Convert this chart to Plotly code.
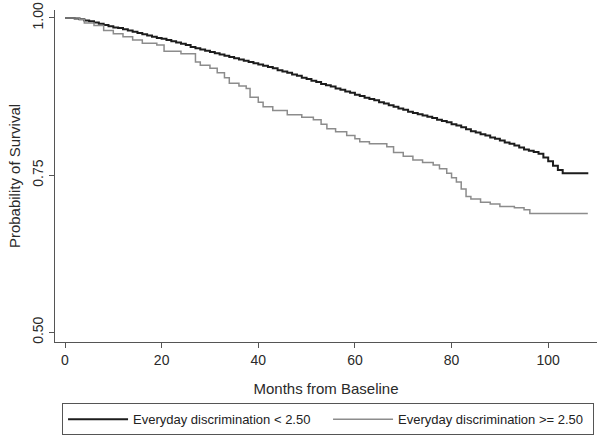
import plotly.graph_objects as go

# Kaplan-Meier style survival readings (months, probability)
low_months = list(range(0, 104)) + [108.3]
low_surv = [1.000, 1.000, 0.999, 0.998, 0.996, 0.995, 0.993, 0.991, 0.989, 0.987,
            0.985, 0.984, 0.982, 0.980, 0.978, 0.976, 0.974, 0.972, 0.970, 0.968,
            0.967, 0.965, 0.963, 0.961, 0.959, 0.957, 0.954, 0.952, 0.950, 0.948,
            0.946, 0.944, 0.942, 0.940, 0.938, 0.936, 0.934, 0.932, 0.930, 0.928,
            0.926, 0.924, 0.922, 0.920, 0.917, 0.915, 0.913, 0.910, 0.908, 0.905,
            0.903, 0.900, 0.898, 0.895, 0.893, 0.891, 0.888, 0.886, 0.883, 0.881,
            0.878, 0.876, 0.873, 0.871, 0.869, 0.866, 0.864, 0.861, 0.859, 0.856,
            0.854, 0.851, 0.849, 0.847, 0.845, 0.843, 0.841, 0.838, 0.836, 0.834,
            0.831, 0.829, 0.826, 0.823, 0.820, 0.818, 0.815, 0.813, 0.810, 0.808,
            0.805, 0.802, 0.800, 0.797, 0.794, 0.791, 0.789, 0.787, 0.784, 0.778,
            0.772, 0.765, 0.758, 0.753, 0.753]

high_months = [0, 3, 4, 6, 8, 10, 12, 14, 16, 19, 20.5, 24, 27, 28, 30, 31.5, 33,
               34, 36, 37.5, 38.3, 40, 41, 43, 46, 49, 51.4, 53, 54.2, 56, 58.3,
               60, 61, 63, 66.6, 68, 70, 72, 74, 76.2, 77.5, 79, 80, 81, 82, 83,
               84, 86, 88, 90, 93, 95, 96.2, 108.2]
high_surv = [1.000, 0.998, 0.992, 0.988, 0.980, 0.975, 0.970, 0.965, 0.960, 0.957,
             0.947, 0.943, 0.930, 0.925, 0.920, 0.913, 0.905, 0.896, 0.892, 0.888,
             0.874, 0.866, 0.859, 0.853, 0.846, 0.842, 0.838, 0.831, 0.824, 0.819,
             0.813, 0.808, 0.803, 0.800, 0.795, 0.786, 0.780, 0.774, 0.770, 0.766,
             0.760, 0.753, 0.746, 0.739, 0.728, 0.716, 0.712, 0.707, 0.704, 0.700,
             0.698, 0.695, 0.689, 0.689]

series_names = ["Everyday discrimination < 2.50", "Everyday discrimination >= 2.50"]
x_ticks = [0, 20, 40, 60, 80, 100]
y_ticks = [0.50, 0.75, 1.00]
y_tick_text = ["0.50", "0.75", "1.00"]
grid_values = [0.75, 1.00]

FONT = "Liberation Sans, Arial, sans-serif"

fig = go.Figure()
fig.add_trace(go.Scatter(x=low_months, y=low_surv, mode="lines", line_shape="hv",
                         name=series_names[0],
                         line=dict(color="#1c1c1c", width=2)))
fig.add_trace(go.Scatter(x=high_months, y=high_surv, mode="lines", line_shape="hv",
                         name=series_names[1],
                         line=dict(color="#8c8c8c", width=1.5)))

yr = [0.4846, 1.0127]
fig.update_layout(
    width=602, height=438,
    margin=dict(l=55, r=5, t=10, b=96, autoexpand=False),
    paper_bgcolor="white", plot_bgcolor="white",
    font=dict(family=FONT, color="#2a2a2a"),
    xaxis=dict(range=[-2.07, 110.1], tickvals=x_ticks, showgrid=False, zeroline=False,
               showline=True, linecolor="#555555", linewidth=1,
               ticks="outside", ticklen=5, tickcolor="#555555",
               tickfont=dict(size=14, color="#2a2a2a"),
               title=dict(text="Months from Baseline", font=dict(size=15, color="#2a2a2a"),
                          standoff=16)),
    yaxis=dict(range=yr, tickvals=y_ticks, ticktext=y_tick_text, tickangle=-90,
               showgrid=False, zeroline=False,
               showline=True, linecolor="#555555", linewidth=1,
               ticks="outside", ticklen=5, tickcolor="#555555",
               tickfont=dict(size=14, color="#2a2a2a"),
               title=dict(text="Probability of Survival", font=dict(size=15, color="#2a2a2a"),
                          standoff=6)),
    yaxis2=dict(range=yr, overlaying="y", tickvals=grid_values, showticklabels=False,
                showgrid=True, gridcolor="#ebebeb", gridwidth=1, zeroline=False,
                showline=False, ticks=""),
    legend=dict(orientation="h", x=0.013, xanchor="left", y=-0.185, yanchor="top",
                bordercolor="#555555", borderwidth=1, bgcolor="white",
                font=dict(size=13, color="#222222"),
                itemwidth=60,
                entrywidth=190, entrywidthmode="pixels", traceorder="normal"),
)
fig.write_html("out.html", config={"displayModeBar": False},
               post_script="document.body.style.margin='0';document.body.style.padding='0';")
